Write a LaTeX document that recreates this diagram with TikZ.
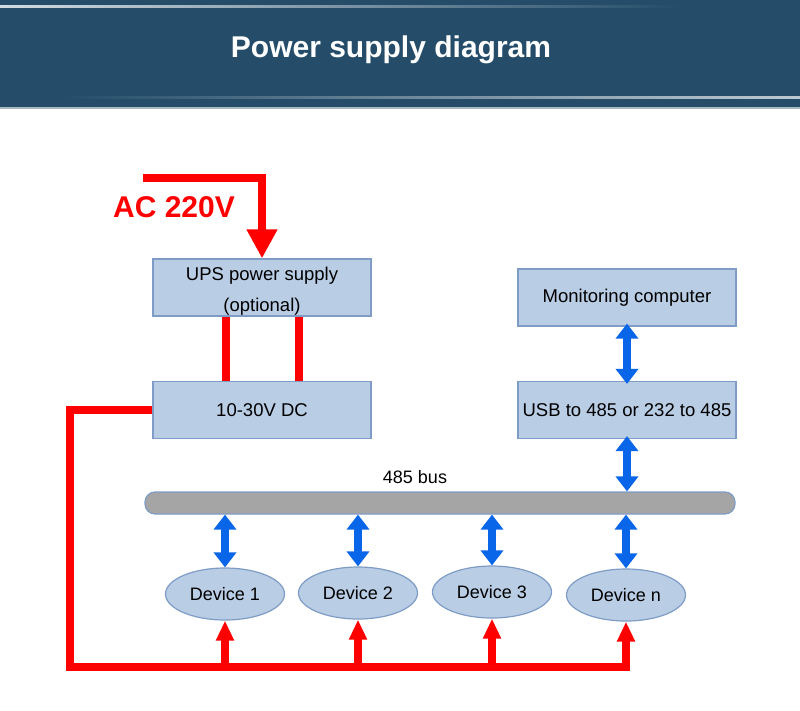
\documentclass[tikz,border=0pt]{standalone}
\usepackage{fontspec}
\setmainfont{Liberation Sans}
\usetikzlibrary{arrows.meta,shapes.geometric}
\definecolor{bandblue}{HTML}{254D69}
\definecolor{boxfill}{HTML}{B9CDE5}
\definecolor{boxline}{HTML}{7E9CC6}
\definecolor{busgray}{HTML}{A5A5A5}
\definecolor{linkblue}{HTML}{0A66E8}
\definecolor{powerred}{HTML}{FF0000}
\tikzset{
  unit/.style={draw=boxline, line width=1.2pt, fill=boxfill, minimum width=218pt,
    minimum height=57pt, inner sep=0pt, align=center,
    font=\fontsize{18.5}{31}\selectfont},
  device/.style={ellipse, draw=boxline, line width=1.2pt, fill=boxfill,
    minimum width=119pt, minimum height=52pt, inner sep=0pt,
    font=\fontsize{18}{20}\selectfont},
  power/.style={draw=powerred, line width=8pt},
  powertip/.style={-{Triangle[width=17pt,length=20pt]}},
  link/.style={draw=linkblue, line width=8pt,
    {Triangle[width=22pt,length=15pt]}-{Triangle[width=22pt,length=15pt]}}
}
\begin{document}
\begin{tikzpicture}[x=1pt,y=-1pt]
      \useasboundingbox (0,0) rectangle (800,710);
      % title band
      \fill[bandblue] (0,0) rectangle (800,107);
      \shade[left color=white!80!bandblue, right color=bandblue] (0,5) rectangle (680,7);
      \shade[left color=bandblue, right color=white!70!bandblue] (60,96) rectangle (800,98);
      \fill[white!60!bandblue] (0,107) rectangle (800,109);
      \node[text=white, font=\fontsize{30}{36}\selectfont\bfseries] (title) at (391,50) {Power supply diagram};
      % boxes
      \node[unit] (ups) at (262,287.5) {\strut UPS power supply\\(optional)};
      \node[unit] (dc) at (262,410) {10-30V DC};
      \node[unit] (pc) at (627,297.5) {Monitoring computer};
      \node[unit] (usb) at (627,410) {USB to 485 or 232 to 485};
      \node[draw=boxline, line width=1.2pt, fill=busgray, rounded corners=10pt,
        minimum width=590pt, minimum height=22pt, inner sep=0pt] (bus) at (440,503) {};
      \node[font=\fontsize{18}{20}\selectfont] (buslabel) at (415,477) {485 bus};
      \node[device] (d1) at (225,594) {Device 1};
      \node[device] (d2) at (358,593) {Device 2};
      \node[device] (d3) at (492,592) {Device 3};
      \node[device] (dn) at (626,595) {Device n};
      % AC input
      \node[text=powerred, font=\fontsize{30}{36}\selectfont\bfseries] (ac) at (174,207) {AC 220V};
      \coordinate (acin) at (143,178);
      \draw[power,-{Triangle[width=29pt,length=29pt]}] (acin) -| (ups.north);
      \draw[power] ([xshift=-36pt]ups.south) -- ([xshift=-36pt]dc.north);
      \draw[power] ([xshift=37pt]ups.south) -- ([xshift=37pt]dc.north);
      % power to devices
      \coordinate (corner) at (70,667);
      \draw[power,powertip] (dc.west) -| (corner) -| (dn.south);
      \draw[power,powertip] (corner -| d1.south) -- (d1.south);
      \draw[power,powertip] (corner -| d2.south) -- (d2.south);
      \draw[power,powertip] (corner -| d3.south) -- (d3.south);
      % 485 links
      \draw[link] ([yshift=3pt]pc.south) -- ([yshift=-3pt]usb.north);
      \draw[link] ([yshift=3pt]usb.south) -- (bus.north -| usb.south);
      \draw[link] (bus.south -| d1.north) -- (d1.north);
      \draw[link] (bus.south -| d2.north) -- (d2.north);
      \draw[link] (bus.south -| d3.north) -- (d3.north);
      \draw[link] (bus.south -| dn.north) -- (dn.north);
    \end{tikzpicture}
\end{document}
